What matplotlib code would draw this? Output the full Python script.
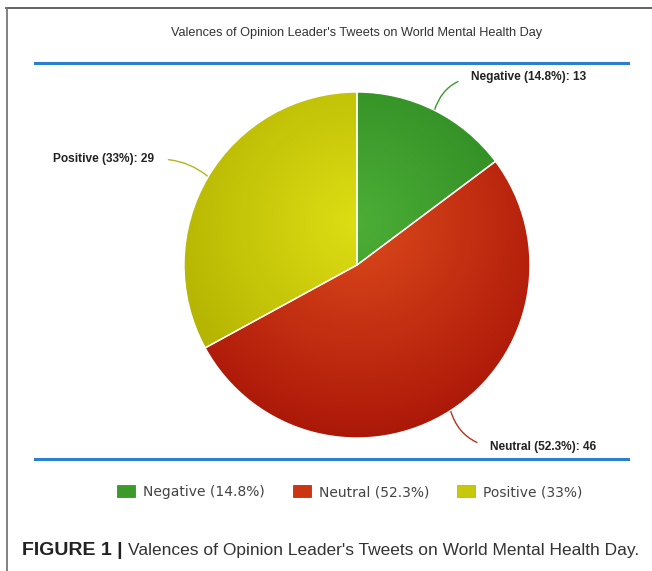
import matplotlib.pyplot as plt
import numpy as np
from matplotlib.lines import Line2D
from matplotlib.patches import Patch
from matplotlib.colors import LinearSegmentedColormap

# Data
categories = ['Negative', 'Neutral', 'Positive']
counts = [13, 46, 29]

# colours (light, dark) per slice
light_cols = ['#4cae36', '#dc4a1c', '#dede14']
dark_cols = ['#2a8420', '#ac1808', '#b0b000']
mid_cols = ['#3c9a2c', '#cc3514', '#c8c80a']
line_cols = ['#3c9a2c', '#b43222', '#b4b420']

W, H = 652, 571
fig = plt.figure(figsize=(W / 100, H / 100), dpi=100)
fig.patch.set_facecolor('white')

narrow = ['Liberation Sans Narrow', 'Liberation Sans', 'DejaVu Sans']


def fx(px):
    return px / W


def fy(py):
    return 1 - py / H


# outer frame (top + left)
fig.add_artist(Line2D([fx(6), 1], [fy(8), fy(8)], color='#555555', lw=1.3))
fig.add_artist(Line2D([fx(7), fx(7)], [fy(8), 0], color='#777777', lw=1.3))

# title and blue rules
fig.text(fx(357), fy(33), "Valences of Opinion Leader's Tweets on World Mental Health Day",
         ha='center', va='center', fontsize=9.2, family=narrow, color='#333333')
for yy in (63, 459):
    fig.add_artist(Line2D([fx(35), fx(628)], [fy(yy), fy(yy)], color='#2a7fcf', lw=2.2))

# pie
cx, cy, r = 357, 265, 173
ax = fig.add_axes([fx(cx - r), fy(cy + r), 2 * r / W, 2 * r / H])
total = sum(counts)
pcts = [round(100 * c / total, 1) for c in counts]
wedges, _ = ax.pie(counts, startangle=90, counterclock=False, colors=mid_cols,
                   wedgeprops={'edgecolor': 'white', 'linewidth': 1.0})
ax.set_xlim(-1, 1)
ax.set_ylim(-1, 1)
ax.set_aspect('equal')

# radial shading inside each wedge
gx, gy = np.meshgrid(np.linspace(-1, 1, 300), np.linspace(-1, 1, 300))
dist = np.sqrt(gx ** 2 + (gy - 0.25) ** 2)
for w, lc, dc in zip(wedges, light_cols, dark_cols):
    cmap = LinearSegmentedColormap.from_list('s', [lc, dc])
    im = ax.imshow(dist, extent=[-1, 1, -1, 1], origin='lower', cmap=cmap,
                   vmin=0, vmax=1.25, zorder=w.get_zorder())
    im.set_clip_path(w)
for w in wedges:
    w.set_facecolor('none')
    w.set_zorder(5)

# slice labels with leader lines
text_pos = [(0.66, 1.085), (0.77, -1.05), (-1.17, 0.61)]
aligns = ['left', 'left', 'right']
rads = [0.3, -0.3, -0.2]
for w, name, c, p, tp, ha, rad, lc in zip(wedges, categories, counts, pcts, text_pos,
                                           aligns, rads, line_cols):
    ang = np.deg2rad((w.theta1 + w.theta2) / 2)
    xy = (np.cos(ang), np.sin(ang))
    ax.annotate(f"{name} ({p:g}%): {c}", xy=xy, xytext=tp, ha=ha, va='center',
                fontsize=8.6, fontweight='bold', family=narrow, color='#222222',
                annotation_clip=False,
                arrowprops=dict(arrowstyle='-', color=lc, lw=1.0, shrinkA=8, shrinkB=0,
                                relpos=(0, 0.5) if ha == 'left' else (1, 0.5),
                                connectionstyle=f'arc3,rad={rad}'))

# legend
handles = [Patch(facecolor=m, edgecolor=d, lw=0.5) for m, d in zip(mid_cols, dark_cols)]
labels = [f"{n} ({p:g}%)" for n, p in zip(categories, pcts)]
fig.legend(handles, labels, loc='center', bbox_to_anchor=(fx(350), fy(492)), ncol=3,
           frameon=False, labelcolor='#444444', handlelength=1.3,
           handleheight=1.0, handletextpad=0.58, columnspacing=2.0,
           prop={'family': 'DejaVu Sans', 'size': 10.0})

# caption: bold prefix + regular text on one baseline
t1 = fig.text(fx(22), fy(555), 'FIGURE 1 |', ha='left', va='baseline', fontsize=14,
              fontweight='bold', family='Liberation Sans', color='#222222')
fig.canvas.draw()
bb = t1.get_window_extent(fig.canvas.get_renderer())
fig.text(bb.x1 / W + fx(5), fy(555),
         "Valences of Opinion Leader's Tweets on World Mental Health Day.",
         ha='left', va='baseline', fontsize=12.5, family='Liberation Sans', color='#333333')

fig.savefig('out.png', dpi=100)
